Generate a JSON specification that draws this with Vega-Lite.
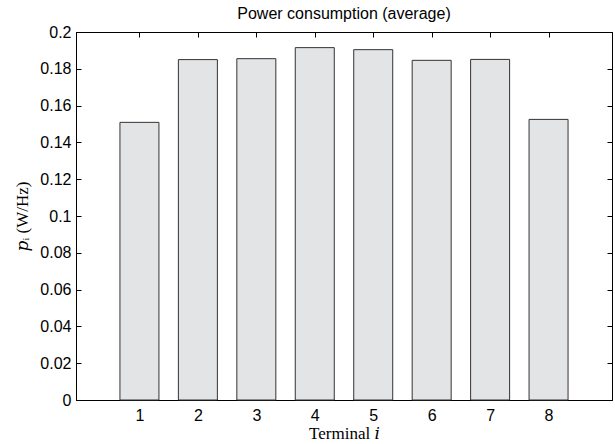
{
  "$schema": "https://vega.github.io/schema/vega-lite/v6.json",
  "autosize": "none",
  "width": 536,
  "height": 368,
  "padding": {"left": 76, "top": 32, "right": 3, "bottom": 44},
  "background": "white",
  "title": {
    "text": "Power consumption (average)",
    "font": "Liberation Sans",
    "fontSize": 16,
    "fontWeight": "normal",
    "color": "black",
    "anchor": "middle",
    "offset": 2
  },
  "config": {
    "view": {"stroke": "black", "strokeWidth": 1},
    "axis": {
      "grid": false,
      "domainColor": "black",
      "tickColor": "black",
      "labelColor": "black",
      "labelFont": "Liberation Sans",
      "labelFontSize": 16,
      "titleColor": "black",
      "titleFont": "Liberation Serif, DejaVu Serif",
      "titleFontSize": 17,
      "titleFontWeight": "normal"
    }
  },
  "data": {
    "values": [
      {"terminal": 1, "p": 0.1509},
      {"terminal": 2, "p": 0.1850},
      {"terminal": 3, "p": 0.1855},
      {"terminal": 4, "p": 0.1915},
      {"terminal": 5, "p": 0.1904},
      {"terminal": 6, "p": 0.1846},
      {"terminal": 7, "p": 0.1851},
      {"terminal": 8, "p": 0.1525}
    ]
  },
  "resolve": {"axis": {"x": "independent", "y": "independent"}},
  "layer": [
    {
      "mark": {"type": "bar", "size": 39, "fill": "#e3e4e6", "stroke": "#333333", "strokeWidth": 1},
      "encoding": {
        "x": {
          "field": "terminal",
          "type": "quantitative",
          "scale": {"domain": [0, 9], "nice": false, "zero": false},
          "axis": {
            "orient": "bottom",
            "values": [1, 2, 3, 4, 5, 6, 7, 8],
            "tickSize": -5,
            "labelPadding": 12,
            "labelAngle": 0,
            "title": "Terminal 𝑖",
            "titlePadding": 2
          }
        },
        "y": {
          "field": "p",
          "type": "quantitative",
          "scale": {"domain": [0, 0.2], "nice": false},
          "axis": {
            "orient": "left",
            "values": [0, 0.02, 0.04, 0.06, 0.08, 0.1, 0.12, 0.14, 0.16, 0.18, 0.2],
            "format": "~g",
            "tickSize": -5,
            "labelPadding": 10,
            "title": "𝑝ᵢ (W/Hz)",
            "titlePadding": 8
          }
        }
      }
    },
    {
      "mark": {"type": "bar", "size": 39, "opacity": 0},
      "encoding": {
        "x": {
          "field": "terminal",
          "type": "quantitative",
          "axis": {
            "orient": "top",
            "values": [1, 2, 3, 4, 5, 6, 7, 8],
            "tickSize": -5,
            "labels": false,
            "title": null
          }
        },
        "y": {
          "field": "p",
          "type": "quantitative",
          "axis": {
            "orient": "right",
            "values": [0, 0.02, 0.04, 0.06, 0.08, 0.1, 0.12, 0.14, 0.16, 0.18, 0.2],
            "tickSize": -5,
            "labels": false,
            "title": null
          }
        }
      }
    }
  ]
}
